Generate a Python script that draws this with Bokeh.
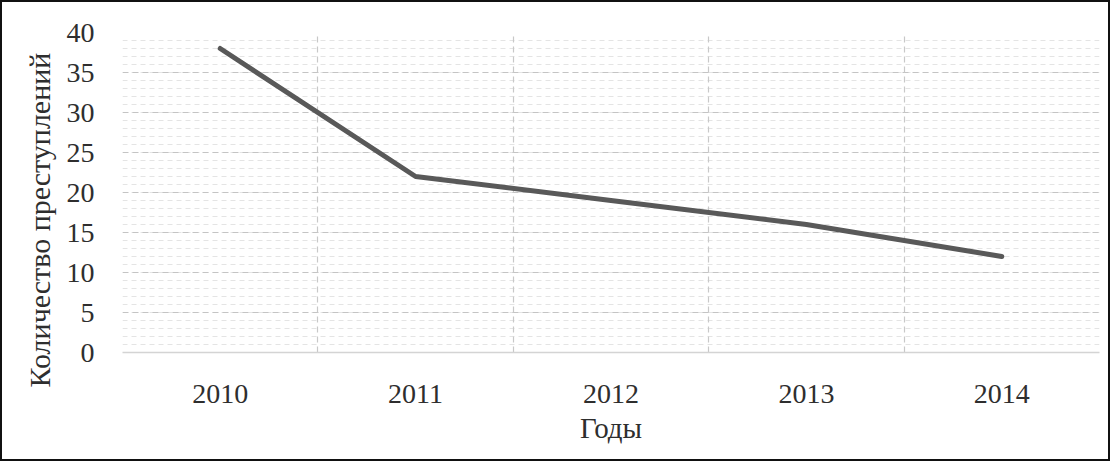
from bokeh.plotting import figure
from bokeh.models import Range1d, FixedTicker, SingleIntervalTicker, Grid, LinearAxis, Title
from bokeh.embed import file_html
from bokeh.resources import INLINE

years = ["2010", "2011", "2012", "2013", "2014"]
crimes = [38, 22, 19, 16, 12]
y_label = "Количество преступлений"
x_label = "Годы"

xs = [i + 0.5 for i in range(len(years))]

p = figure(width=1110, height=461, output_backend="svg", toolbar_location=None,
           x_range=Range1d(0, len(years)), y_range=Range1d(0, 40),
           x_axis_type=None, y_axis_type=None,
           min_border_left=120, min_border_right=13, min_border_top=30, min_border_bottom=111)
p.styles = {"border": "2px solid #111111", "box-sizing": "border-box"}
p.outline_line_color = None
p.background_fill_color = "white"
p.border_fill_color = "white"

font = "Liberation Serif"
tcol = "#2e2e2e"

yax = LinearAxis(ticker=SingleIntervalTicker(interval=5, num_minor_ticks=5))
yax.axis_line_color = None
yax.major_tick_line_color = None
yax.minor_tick_line_color = None
yax.major_label_text_font = font
yax.major_label_text_font_size = "28px"
yax.major_label_text_color = tcol
yax.major_label_standoff = 22
p.add_layout(yax, "left")

ytitle = Title(text=y_label, align="left", offset=-35, standoff=16,
               text_font=font, text_font_size="30px", text_font_style="normal",
               text_color=tcol)
p.add_layout(ytitle, "left")

xax = LinearAxis(ticker=FixedTicker(ticks=xs))
xax.major_label_overrides = {x: y for x, y in zip(xs, years)}
xax.axis_line_color = "#d4d4d4"
xax.axis_line_width = 1.5
xax.major_tick_line_color = None
xax.minor_tick_line_color = None
xax.major_label_text_font = font
xax.major_label_text_font_size = "28px"
xax.major_label_text_color = tcol
xax.major_label_standoff = 26
xax.axis_label = x_label
xax.axis_label_text_font = font
xax.axis_label_text_font_size = "29px"
xax.axis_label_text_font_style = "normal"
xax.axis_label_text_color = tcol
xax.axis_label_standoff = 6
p.add_layout(xax, "below")

ygrid = Grid(dimension=1, ticker=yax.ticker)
ygrid.grid_line_color = "#c4c4c4"
ygrid.grid_line_dash = "6 4"
ygrid.grid_line_width = 1.2
ygrid.minor_grid_line_color = "#e4e4e4"
ygrid.minor_grid_line_dash = "5 4"
p.add_layout(ygrid)

xgrid = Grid(dimension=0, ticker=FixedTicker(ticks=list(range(len(years) + 1))))
xgrid.grid_line_color = "#c8c8c8"
xgrid.grid_line_dash = "6 4"
xgrid.grid_line_width = 1.2
p.add_layout(xgrid)

p.line(xs, crimes, line_color="#595959", line_width=5, line_cap="round", line_join="round")

open("out.html", "w").write(file_html(p, INLINE))
